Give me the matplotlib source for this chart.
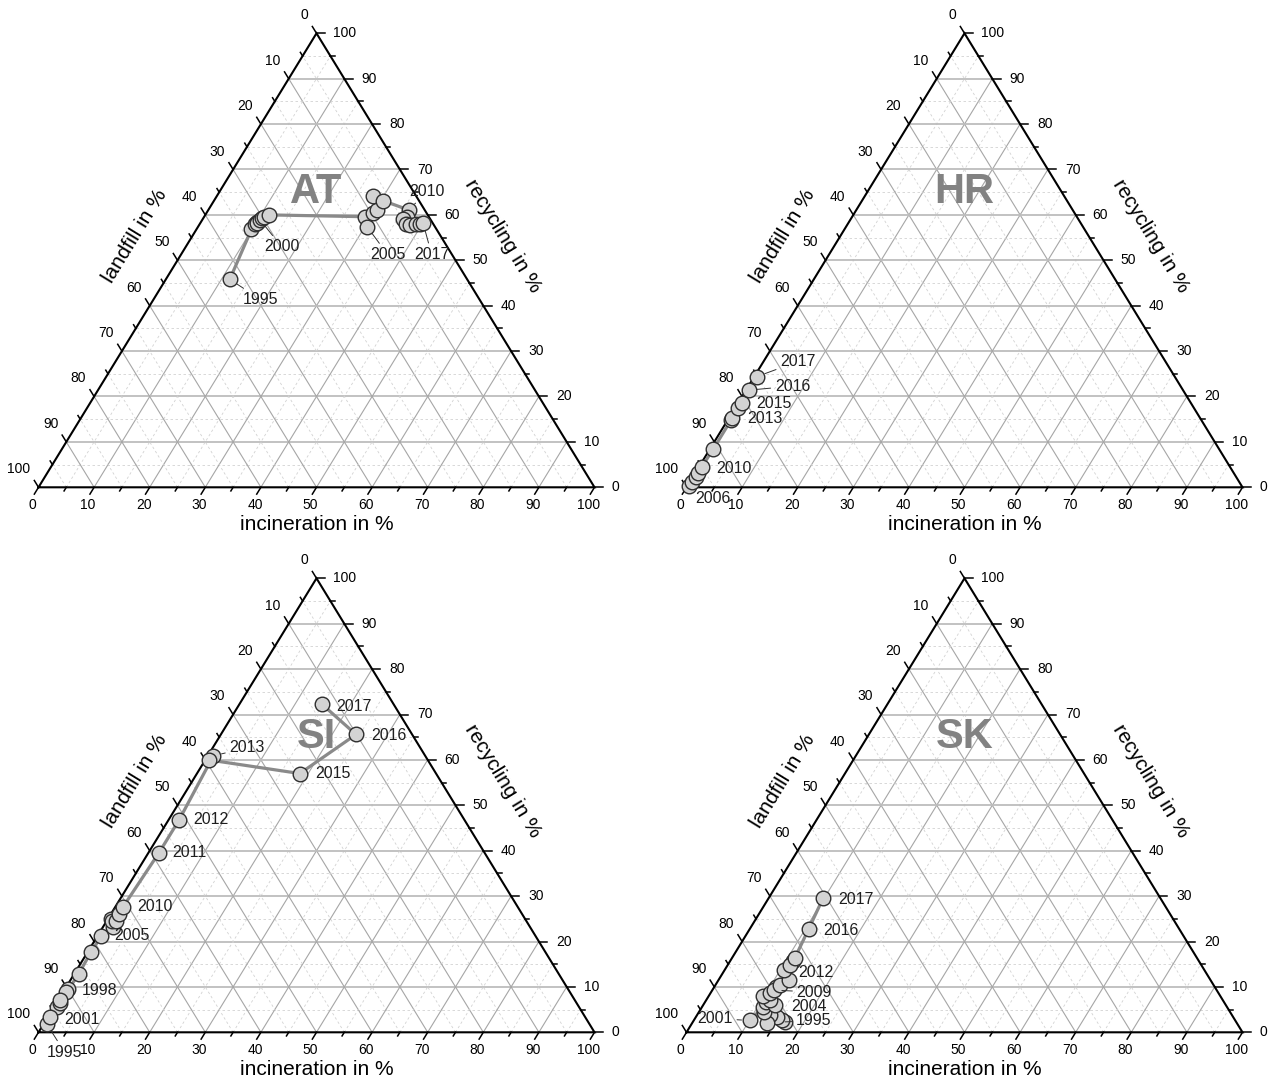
import numpy as np
import matplotlib.pyplot as plt

plt.rcParams['font.family'] = ['Liberation Sans', 'DejaVu Sans']

# shares in % (landfill = 100 - incineration - recycling)
at_years = list(range(1995, 2018))
at_incineration = [11.5, 9.9, 9.9, 10.0, 10.2, 10.4, 10.6, 10.8, 11.5, 28.9, 30.4, 30.0,
                   30.4, 28.1, 30.5, 36.0, 36.4, 36.0, 37.1, 38.0, 39.0, 39.6, 40.0]
at_recycling = [45.8, 56.8, 58.0, 58.5, 58.2, 58.9, 59.3, 59.6, 60.0, 59.6, 57.4, 60.4,
                61.1, 64.2, 63.1, 61.1, 59.6, 59.0, 58.1, 57.8, 57.9, 58.1, 58.3]
at_labels = [1995, 2000, 2005, 2010, 2017]

hr_years = list(range(2006, 2018))
hr_incineration = [0.3, 0.4, 0.5, 0.5, 0.5, 0.6, 0.6, 0.6, 0.6, 0.6, 0.5, 0.5]
hr_recycling = [0.3, 1.2, 2.3, 3.2, 4.4, 8.4, 14.8, 15.2, 17.4, 18.6, 21.4, 24.4]
hr_labels = [2006, 2010, 2013, 2015, 2016, 2017]

si_years = list(range(1995, 2018))
si_incineration = [0.6, 0.5, 0.6, 0.6, 0.5, 0.4, 0.4, 0.8, 0.6, 0.7, 1.8, 0.6,
                   0.9, 1.7, 1.4, 1.4, 1.9, 1.9, 1.0, 0.6, 18.5, 24.3, 14.8]
si_recycling = [1.8, 5.6, 6.4, 9.5, 8.9, 7.1, 3.3, 12.8, 17.7, 21.2, 23.3, 24.9,
                24.5, 24.5, 26.1, 27.7, 39.6, 46.8, 60.9, 60.0, 57.0, 65.6, 72.3]
si_labels = [1995, 1998, 2001, 2005, 2010, 2011, 2012, 2013, 2015, 2016, 2017]

sk_years = list(range(1995, 2018))
sk_incineration = [16.6, 15.8, 14.5, 13.1, 13.4, 11.6, 10.1, 11.0, 11.0, 12.9, 11.5, 9.8,
                   10.7, 11.1, 11.0, 11.6, 12.6, 10.6, 11.3, 11.2, 11.3, 10.6, 9.8]
sk_recycling = [2.3, 2.7, 3.4, 3.8, 2.0, 4.5, 2.6, 5.6, 6.7, 6.0, 7.1, 8.0,
                8.7, 10.0, 9.3, 10.4, 11.5, 13.7, 15.6, 14.8, 16.4, 22.7, 29.5]
sk_labels = [1995, 2001, 2004, 2009, 2012, 2016, 2017]

# label offsets in pixels from the point (right, down), alignment, leader line
at_label_pos = {1995: (13, 20, 'left', True), 2000: (4, 27, 'left', True),
                2005: (3, 28, 'left', True), 2010: (1, -18, 'left', True),
                2017: (-9, 32, 'left', True)}
hr_label_pos = {2006: (6, 13, 'left', False), 2010: (15, 1, 'left', False),
                2013: (15, 0, 'left', False), 2015: (15, 1, 'left', False),
                2016: (26, -4, 'left', True), 2017: (23, -15, 'left', True)}
si_label_pos = {1995: (0, 28, 'left', True), 1998: (14, 1, 'left', False),
                2001: (14, 2, 'left', False), 2005: (1, 9, 'left', False),
                2010: (14, 0, 'left', False), 2011: (13, 0, 'left', False),
                2012: (14, 0, 'left', False), 2013: (16, -8, 'left', True),
                2015: (15, 0, 'left', False), 2016: (15, 1, 'left', False),
                2017: (14, 2, 'left', False)}
sk_label_pos = {1995: (11, -1, 'left', True), 2001: (-17, -2, 'right', True),
                2004: (16, 1, 'left', False), 2009: (23, 2, 'left', True),
                2012: (15, 2, 'left', False), 2016: (15, 1, 'left', False),
                2017: (15, 1, 'left', False)}

W, H = 1269, 1082
SIDE = 556.0
TALL = 454.0
TILT = np.degrees(np.arctan2(TALL, SIDE / 2))


def tern(inc, rec):
    inc = np.asarray(inc, dtype=float)
    rec = np.asarray(rec, dtype=float)
    return inc + rec / 2, rec


def draw_frame(ax):
    for c in range(5, 100, 5):
        major = c % 10 == 0
        ls = '-' if major else (0, (3, 3))
        col = '#a6a6a6' if major else '#d2d2d2'
        lw = 0.8 if major else 0.6
        # recycling lines (horizontal)
        ax.plot([c / 2, 100 - c / 2], [c, c], ls=ls, color='#bdbdbd' if major else col,
                lw=1.3 if major else lw, zorder=1)
        # incineration lines
        ax.plot([c, c + (100 - c) / 2], [0, 100 - c], ls=ls, color=col, lw=lw, zorder=1)
        # landfill lines
        ax.plot([100 - c, (100 - c) / 2], [0, 100 - c], ls=ls, color=col, lw=lw, zorder=1)

    ax.plot([0, 100, 50, 0], [0, 0, 100, 0], color='black', lw=1.5, zorder=2,
            clip_on=False, solid_joinstyle='miter')

    for c in range(0, 101, 5):
        t = 1.5 if c % 10 == 0 else 0.8
        # bottom axis: incineration
        ax.plot([c, c - 0.5 * t], [0, -t], color='black', lw=1.1, clip_on=False)
        # right axis: recycling
        ax.plot([100 - c / 2, 100 - c / 2 + t], [c, c], color='black', lw=1.1, clip_on=False)
        # left axis: landfill
        ax.plot([(100 - c) / 2, (100 - c) / 2 - 0.5 * t], [100 - c, 100 - c + t],
                color='black', lw=1.1, clip_on=False)
        if c % 10:
            continue
        ax.annotate(str(c), (c, 0), xytext=(-6, -18), textcoords='offset pixels',
                    ha='center', va='center', fontsize=10)
        ax.annotate(str(c), (100 - c / 2, c), xytext=(17, 0), textcoords='offset pixels',
                    ha='left', va='center', fontsize=10)
        ax.annotate(str(c), ((100 - c) / 2, 100 - c), xytext=(-8, 18),
                    textcoords='offset pixels', ha='right', va='center', fontsize=10)

    ax.text(50, -8.3, 'incineration in %', ha='center', va='center', fontsize=15)
    ax.text(17.4, 55.3, 'landfill in %', ha='center', va='center', fontsize=15,
            rotation=TILT, rotation_mode='anchor')
    ax.text(83.5, 55.3, 'recycling in %', ha='center', va='center', fontsize=15,
            rotation=-TILT, rotation_mode='anchor')


def draw_panel(ax, name, years, inc, rec, labels, label_pos):
    draw_frame(ax)
    ax.text(50, 65, name, ha='center', va='center', fontsize=30, fontweight='bold',
            color='#828282', zorder=2)
    x, y = tern(inc, rec)
    ax.plot(x, y, color='#8a8a8a', lw=2.3, zorder=3, clip_on=False)
    ax.plot(x, y, 'o', ms=10.5, mfc='#d3d3d3', mec='#2e2e2e', mew=1.0, zorder=4,
            clip_on=False)
    for yr in labels:
        i = years.index(yr)
        dx, dy, ha, leader = label_pos[yr]
        arrow = None
        if leader:
            arrow = dict(arrowstyle='-', color='#303030', lw=0.7, shrinkA=1, shrinkB=6)
        ax.annotate(str(yr), (x[i], y[i]), xytext=(dx, -dy), textcoords='offset pixels',
                    ha=ha, va='center', fontsize=11.5, color='#1e1e1e',
                    arrowprops=arrow, zorder=5)


fig = plt.figure(figsize=(W / 100, H / 100), dpi=100)
panels = [
    ('AT', 38.5, 487.3, at_years, at_incineration, at_recycling, at_labels, at_label_pos),
    ('HR', 686.5, 487.3, hr_years, hr_incineration, hr_recycling, hr_labels, hr_label_pos),
    ('SI', 38.5, 1032.3, si_years, si_incineration, si_recycling, si_labels, si_label_pos),
    ('SK', 686.5, 1032.3, sk_years, sk_incineration, sk_recycling, sk_labels, sk_label_pos),
]
for name, left, bottom, years, inc, rec, labels, label_pos in panels:
    ax = fig.add_axes([left / W, (H - bottom) / H, SIDE / W, TALL / H])
    ax.set_xlim(0, 100)
    ax.set_ylim(0, 100)
    ax.axis('off')
    draw_panel(ax, name, years, inc, rec, labels, label_pos)

fig.savefig('out.png', dpi=100)
